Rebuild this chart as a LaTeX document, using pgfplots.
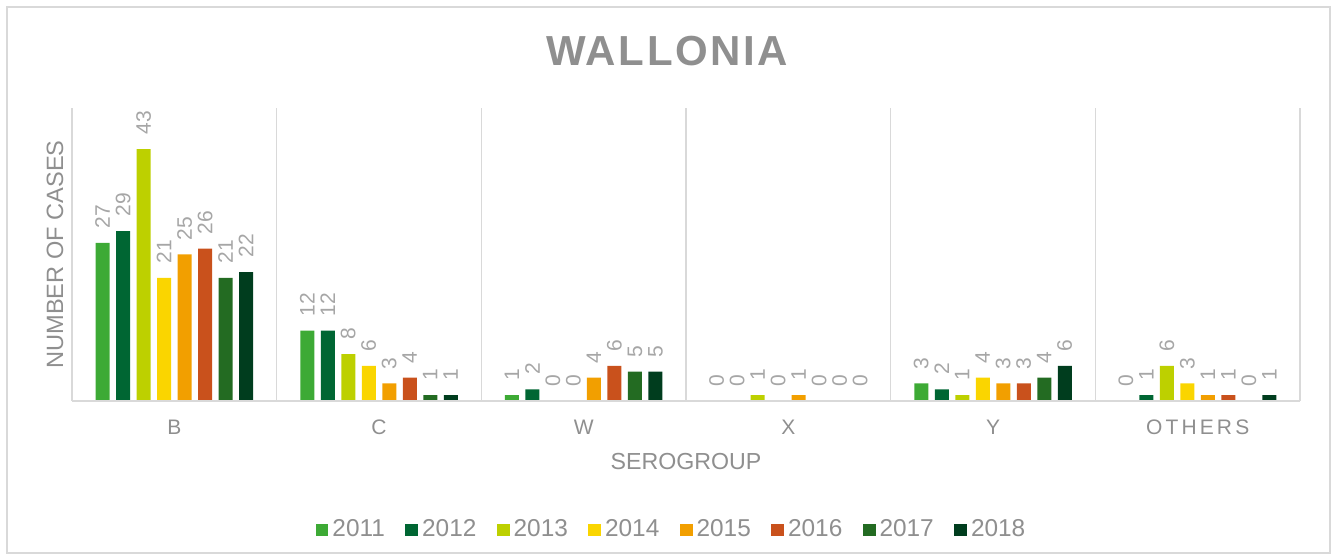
\documentclass[border=0pt]{standalone}
\usepackage{pgfplots}
\pgfplotsset{compat=1.18}
\usepackage{fontspec}
\setmainfont{Liberation Sans}

\definecolor{c2011}{HTML}{3DAA35}
\definecolor{c2012}{HTML}{006633}
\definecolor{c2013}{HTML}{BDD000}
\definecolor{c2014}{HTML}{FAD500}
\definecolor{c2015}{HTML}{F29F00}
\definecolor{c2016}{HTML}{C9511C}
\definecolor{c2017}{HTML}{236B22}
\definecolor{c2018}{HTML}{003D1E}
\definecolor{txtgray}{HTML}{8F8F8F}
\definecolor{lblgray}{HTML}{A6A6A6}
\definecolor{linegray}{HTML}{D9D9D9}

\begin{document}
\begin{tikzpicture}
\begin{axis}[
  scale only axis,
  width=614pt, height=146.5pt,
  ybar=3.25pt,
  bar width=7pt,
  xmin=-0.5, xmax=5.5,
  ymin=0, ymax=50,
  xtick={0,...,5},
  ytick=\empty,
  xticklabels={B,C,W,X,Y,{\addfontfeatures{LetterSpace=15}OTHERS}},
  minor xtick={-0.5,0.5,...,5.5},
  xminorgrids,
  minor grid style={draw=linegray, line width=0.6pt},
  major tick length=0pt, minor tick length=0pt,
  axis x line*=bottom,
  axis y line*=left,
  y axis line style={draw=none},
  x axis line style={draw=linegray, line width=0.8pt},
  axis on top,
  /pgf/number format/assume math mode=true,
  xticklabel style={font=\fontsize{10.5}{12}\selectfont, text=txtgray, yshift=-6pt},
  xlabel={SEROGROUP},
  xlabel style={at={(axis description cs:0.5,-0.208)}, anchor=center,
    font=\fontsize{11.6}{13}\selectfont, text=txtgray},
  ylabel={NUMBER OF CASES},
  ylabel style={at={(axis description cs:-0.0138,0.5)}, anchor=center,
    font=\fontsize{11.8}{13}\selectfont, text=txtgray},
  title={\addfontfeatures{LetterSpace=6}WALLONIA},
  title style={at={(axis description cs:0.4845,1.152)}, anchor=center,
    font=\fontsize{21}{24}\selectfont\bfseries, text=txtgray},
  nodes near coords,
  every node near coord/.append style={rotate=90, anchor=west, inner xsep=7pt, inner ysep=0pt,
    font=\fontsize{10.5}{12}\selectfont, text=lblgray},
  legend image code/.code={\fill[#1] (0pt,-3.2pt) rectangle (6.4pt,3.2pt);},
  legend columns=8,
  legend style={at={(axis description cs:0.489,-0.44)}, anchor=center, draw=none,
    font=\fontsize{12.2}{14}\selectfont, text=txtgray,
    /tikz/every even column/.append style={column sep=8.2pt}},
  clip=false,
]
\addplot[fill=c2011, draw=none] coordinates {(0,27) (1,12) (2,1) (3,0) (4,3) (5,0)};
\addplot[fill=c2012, draw=none] coordinates {(0,29) (1,12) (2,2) (3,0) (4,2) (5,1)};
\addplot[fill=c2013, draw=none] coordinates {(0,43) (1,8) (2,0) (3,1) (4,1) (5,6)};
\addplot[fill=c2014, draw=none] coordinates {(0,21) (1,6) (2,0) (3,0) (4,4) (5,3)};
\addplot[fill=c2015, draw=none] coordinates {(0,25) (1,3) (2,4) (3,1) (4,3) (5,1)};
\addplot[fill=c2016, draw=none] coordinates {(0,26) (1,4) (2,6) (3,0) (4,3) (5,1)};
\addplot[fill=c2017, draw=none] coordinates {(0,21) (1,1) (2,5) (3,0) (4,4) (5,0)};
\addplot[fill=c2018, draw=none] coordinates {(0,22) (1,1) (2,5) (3,0) (4,6) (5,1)};
\legend{2011,2012,2013,2014,2015,2016,2017,2018}
\coordinate (O) at (rel axis cs:0,0);
\end{axis}
\draw[draw=linegray, line width=0.75pt] ([shift={(-32.5pt,-76pt)}]O) rectangle ([shift={(629pt,197pt)}]O);
\pgfresetboundingbox
\useasboundingbox ([shift={(-36pt,-79.5pt)}]O) rectangle ([shift={(633pt,200.5pt)}]O);
\end{tikzpicture}
\end{document}
